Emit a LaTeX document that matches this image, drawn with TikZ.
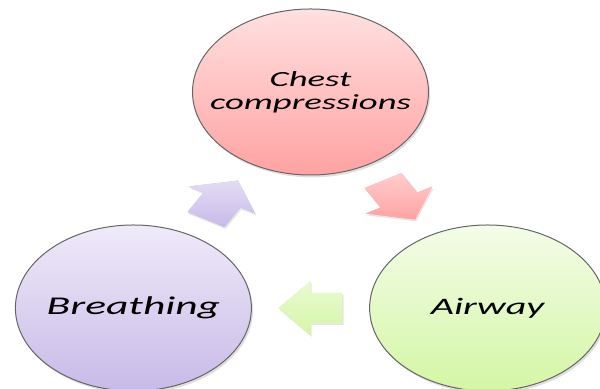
\documentclass[tikz,border=0pt]{standalone}
\usepackage{fontspec}
\newfontfamily\cprfont[FakeStretch=1.7]{Carlito}
\usetikzlibrary{shapes.geometric,shadows,calc}

\definecolor{chestlight}{RGB}{255,224,224}
\definecolor{chestdark}{RGB}{255,162,162}
\definecolor{airlight}{RGB}{243,252,232}
\definecolor{airdark}{RGB}{212,246,165}
\definecolor{breathlight}{RGB}{239,234,249}
\definecolor{breathdark}{RGB}{200,186,232}

\begin{document}
\begin{tikzpicture}[x=0.5pt,y=0.5pt,
  cprnode/.style={ellipse,draw=black!60,line width=0.5pt,minimum width=118pt,
    minimum height=83pt,inner sep=0pt,
    drop shadow={opacity=0.25,shadow xshift=0.8pt,shadow yshift=-1.2pt}},
  cprarrow/.style={drop shadow={opacity=0.2,shadow xshift=0.6pt,shadow yshift=-1pt}}]
\clip (0,0) rectangle (600,389);
% the three steps
\foreach \name/\ang/\light/\dark/\size/\txt in
  {chest/90/chestlight/chestdark/10.8/{Chest\\compressions},
   airway/-30/airlight/airdark/11.8/Airway,
   breathing/210/breathlight/breathdark/12.8/Breathing}
{
        \node[cprnode,top color=\light,bottom color=\dark]
        (\name) at ({310.5+204.5*cos(\ang)},{153+144*sin(\ang)}) {};
        \node[align=center,font=\cprfont\itshape\fontsize{\size}{11.5}\selectfont]
        (\name-text) at (\name) {\txt};
}
% arrows between the steps
\foreach \a/\b/\ang/\light/\dark in
  {chest/airway/-60/chestlight/chestdark,
   airway/breathing/180/airlight/airdark,
   breathing/chest/60/breathlight/breathdark}
{
        \path ($(\a)!0.5!(\b)$) coordinate (\a-\b);
        \begin{scope}[shift={(\a-\b)},xscale=1.42,rotate=\ang]
        \fill[cprarrow,fill=\dark,path picture={
          \shade[reset cm,top color=\light!70!\dark,bottom color=\dark]
          (path picture bounding box.south west)
          rectangle (path picture bounding box.north east);}]
        (-22.5,-15) -- (0,-15) -- (0,-27) -- (22.5,0) -- (0,27) -- (0,15)
        -- (-22.5,15) -- cycle;
        \end{scope}
}
\end{tikzpicture}
\end{document}
